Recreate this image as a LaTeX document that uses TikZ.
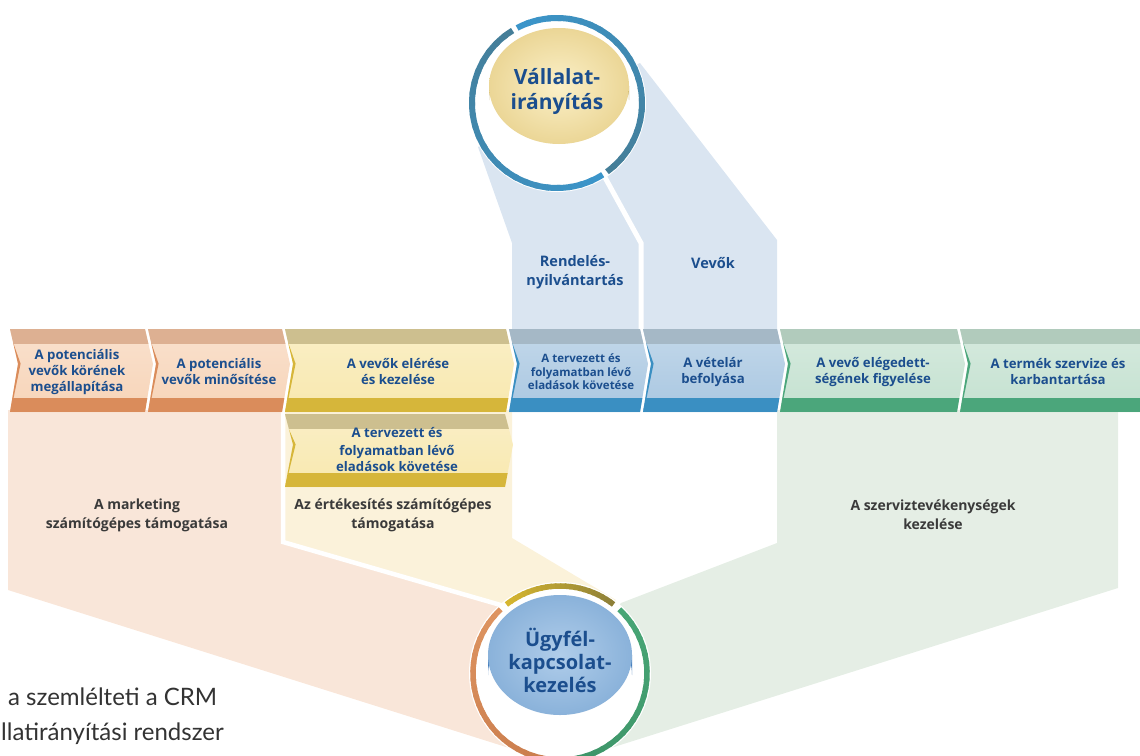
\documentclass[tikz,border=0pt]{standalone}
\usepackage{fontspec}
\setmainfont{Open Sans}
\newfontfamily\capfont{Lato}
\usetikzlibrary{calc}
\definecolor{tblue}{HTML}{1B4E8E}
\definecolor{fantext}{HTML}{3A3A3A}
\definecolor{lblue}{HTML}{DAE5F1}
\definecolor{fpeach}{HTML}{F9E6D9}
\definecolor{fcream}{HTML}{FBF2DA}
\definecolor{fgreen}{HTML}{E5EEE5}
\definecolor{oStrip}{HTML}{DDB092}
\definecolor{oFace}{HTML}{F7D4B8}
\definecolor{oBand}{HTML}{DA8C5B}
\definecolor{yStrip}{HTML}{CDBF8F}
\definecolor{yFace}{HTML}{F8E8AE}
\definecolor{yBand}{HTML}{D6B63A}
\definecolor{bStrip}{HTML}{A5B8C6}
\definecolor{bFace}{HTML}{A9C7E1}
\definecolor{bBand}{HTML}{3A8FC2}
\definecolor{gStrip}{HTML}{B1CBBC}
\definecolor{gFace}{HTML}{C4E1D0}
\definecolor{gBand}{HTML}{4BA67B}
\definecolor{ringBright}{HTML}{3B95CA}
\definecolor{ringDark}{HTML}{457E98}
\definecolor{yrBright}{HTML}{D6B630}
\definecolor{yrDark}{HTML}{8E8038}
\definecolor{orA}{HTML}{DE9461}
\definecolor{orB}{HTML}{C97C4C}
\definecolor{grA}{HTML}{48A676}
\definecolor{grB}{HTML}{3D9468}
\definecolor{goldFaceIn}{HTML}{FBF0C8}
\definecolor{goldFaceOut}{HTML}{EBD696}
\definecolor{goldSideTop}{HTML}{CDAE3C}
\definecolor{goldSideBot}{HTML}{A8892A}
\definecolor{blueFaceIn}{HTML}{B0CDEA}
\definecolor{blueFaceOut}{HTML}{8AB2DA}
\definecolor{blueSideTop}{HTML}{5E95CE}
\definecolor{blueSideBot}{HTML}{3F78B8}
\definecolor{captext}{HTML}{333333}

\newcommand\chevblock[5]{%
  \pgfmathsetmacro\cbmid{#3+0.42*(#4-#3)}%
  \begin{scope}
    \clip (#1,#3) -- (#2,#3) -- (#2+8,\cbmid) -- (#2,#4) -- (#1,#4) -- (#1+8,\cbmid) -- cycle;
    \shade[top color=#5Face!70!white, bottom color=#5Face] (#1-2,#3) rectangle (#2+10,#4);
    \fill[#5Strip] (#1-2,#3) rectangle (#2+10,#3+15);
    \fill[#5Band] (#1-2,#4-14) rectangle (#2+10,#4);
    \draw[#5Band, line width=5] (#1+1,#3+15) -- (#1+8,\cbmid) -- (#1+1,#4-14);
  \end{scope}}

\newcommand\gradarc[8]{%
  \foreach \k in {0,...,23}{%
    \pgfmathsetmacro\gaA{#4+(#5-#4)*\k/24}%
    \pgfmathsetmacro\gaB{#4+(#5-#4)*min(\k+1.3,24)/24}%
    \pgfmathsetmacro\gaP{100*\k/23}%
    \draw[line width=#8, color=#7!\gaP!#6] ($(#1,#2)+(\gaA:#3)$) arc[start angle=\gaA, end angle=\gaB, radius=#3];
  }}

\begin{document}
\begin{tikzpicture}[x=1pt,y=-1pt,
  blocktxt/.style={font=\bfseries\fontsize{13.2}{16}\selectfont, text=tblue, align=center, inner sep=0},
  smalltxt/.style={font=\bfseries\fontsize{11.5}{13.5}\selectfont, text=tblue, align=center, inner sep=0},
  toptxt/.style={font=\bfseries\fontsize{14.5}{19}\selectfont, text=tblue, align=center, inner sep=0},
  fantxt/.style={font=\bfseries\fontsize{14}{19}\selectfont, text=fantext, align=center, inner sep=0},
  circtxtA/.style={font=\bfseries\fontsize{21}{25}\selectfont, text=tblue, align=center, inner sep=0},
  circtxtB/.style={font=\bfseries\fontsize{20}{23}\selectfont, text=tblue, align=center, inner sep=0},
  captxt/.style={font=\capfont\fontsize{24}{35}\selectfont, text=captext, inner sep=0, anchor=base west},
  divider/.style={white, line width=4.5}]
\useasboundingbox (0,0) rectangle (1140,755);

% light blue areas from the top circle
\fill[lblue] (478,147) -- (512,243) -- (512,332) -- (640,332) -- (640,243) -- (604,176) -- (557,103) -- cycle;
\fill[lblue] (604,176) -- (640,243) -- (640,332) -- (777,332) -- (777,240) -- (640,63) -- (557,103) -- cycle;
\draw[divider, line width=5] (602,172) -- (641,243) -- (641,332);

% fans towards the bottom circle
\fill[fpeach] (8,410) -- (283,410) -- (283,542) -- (502,605) -- (560,673) -- (560,764) -- (8,590) -- cycle;
\fill[fcream] (283,410) -- (512,410) -- (512,538) -- (616,600) -- (560,673) -- (502,605) -- (283,542) -- cycle;
\draw[divider] (283,410) -- (283,542) -- (504,606);
\fill[fgreen] (777,410) -- (1118,410) -- (1118,588) -- (560,764) -- (560,673) -- (621,603) -- (777,543) -- cycle;

% top circle
\fill[white] (557,103) circle[radius=89];
\gradarc{557}{103}{85}{-118}{54}{ringBright}{ringDark}{6}
\gradarc{557}{103}{85}{57.5}{238.5}{ringBright}{ringDark}{6}
\shade[top color=goldSideTop, bottom color=goldSideBot] (489,86) -- (489,100) arc[start angle=180, end angle=360, x radius=70, y radius=58] -- (629,86) -- cycle;
\shade[inner color=goldFaceIn, outer color=goldFaceOut] (559,86) ellipse[x radius=70, y radius=58];
\node[circtxtA] (vi) at (557,91) {Vállalat-\\irányítás};

% bottom circle
\fill[white] (560,673) circle[radius=91];
\gradarc{560}{673}{87}{-128}{-52}{yrBright}{yrDark}{5.5}
\gradarc{560}{673}{87}{-133}{-268}{orA}{orB}{5.5}
\gradarc{560}{673}{87}{-47}{88}{grA}{grB}{5.5}
\shade[top color=blueSideTop, bottom color=blueSideBot] (488,655) -- (488,675) arc[start angle=180, end angle=360, x radius=72, y radius=60] -- (632,655) -- cycle;
\shade[inner color=blueFaceIn, outer color=blueFaceOut] (560,655) ellipse[x radius=72, y radius=60];
\node[circtxtB] (uk) at (560,660) {Ügyfél-\\kapcsolat-\\kezelés};

% chevron band
\chevblock{10}{145}{329}{412}{o}
\chevblock{148}{282}{329}{412}{o}
\chevblock{285}{506}{329}{412}{y}
\chevblock{509}{640}{329}{412}{b}
\chevblock{643}{777}{329}{412}{b}
\chevblock{780}{957}{329}{412}{g}
\chevblock{960}{1150}{329}{412}{g}
\chevblock{285}{505}{414}{487}{y}

% block labels
\node[blocktxt] (b1) at (77,372) {A potenciális\\vevők körének\\megállapítása};
\node[blocktxt] (b2) at (219,372) {A potenciális\\vevők minősítése};
\node[blocktxt] (b3) at (398,372) {A vevők elérése\\és kezelése};
\node[smalltxt] (b4) at (581,372) {A tervezett és\\folyamatban lévő\\eladások követése};
\node[blocktxt] (b5) at (713,372) {A vételár\\befolyása};
\node[blocktxt] (b6) at (873,372) {A vevő elégedett-\\ségének figyelése};
\node[blocktxt] (b7) at (1058,372) {A termék szervize és\\karbantartása};
\node[blocktxt, font=\bfseries\fontsize{13.2}{17}\selectfont] (b8) at (397,450) {A tervezett és\\folyamatban lévő\\eladások követése};

% area labels
\node[toptxt] (rn) at (575,272) {Rendelés-\\nyilvántartás};
\node[toptxt] (vv) at (713,263) {Vevők};
\node[fantxt] (f1) at (137,515) {A marketing\\számítógépes támogatása};
\node[fantxt] (f2) at (393,515) {Az értékesítés számítógépes\\támogatása};
\node[fantxt] (f3) at (933,515) {A szerviztevékenységek\\kezelése};

% caption fragments
\node[captxt] (c1) at (8,705) {a szemlélteti a CRM};
\node[captxt] (c2) at (1,740) {llatirányítási rendszer};
\end{tikzpicture}
\end{document}
